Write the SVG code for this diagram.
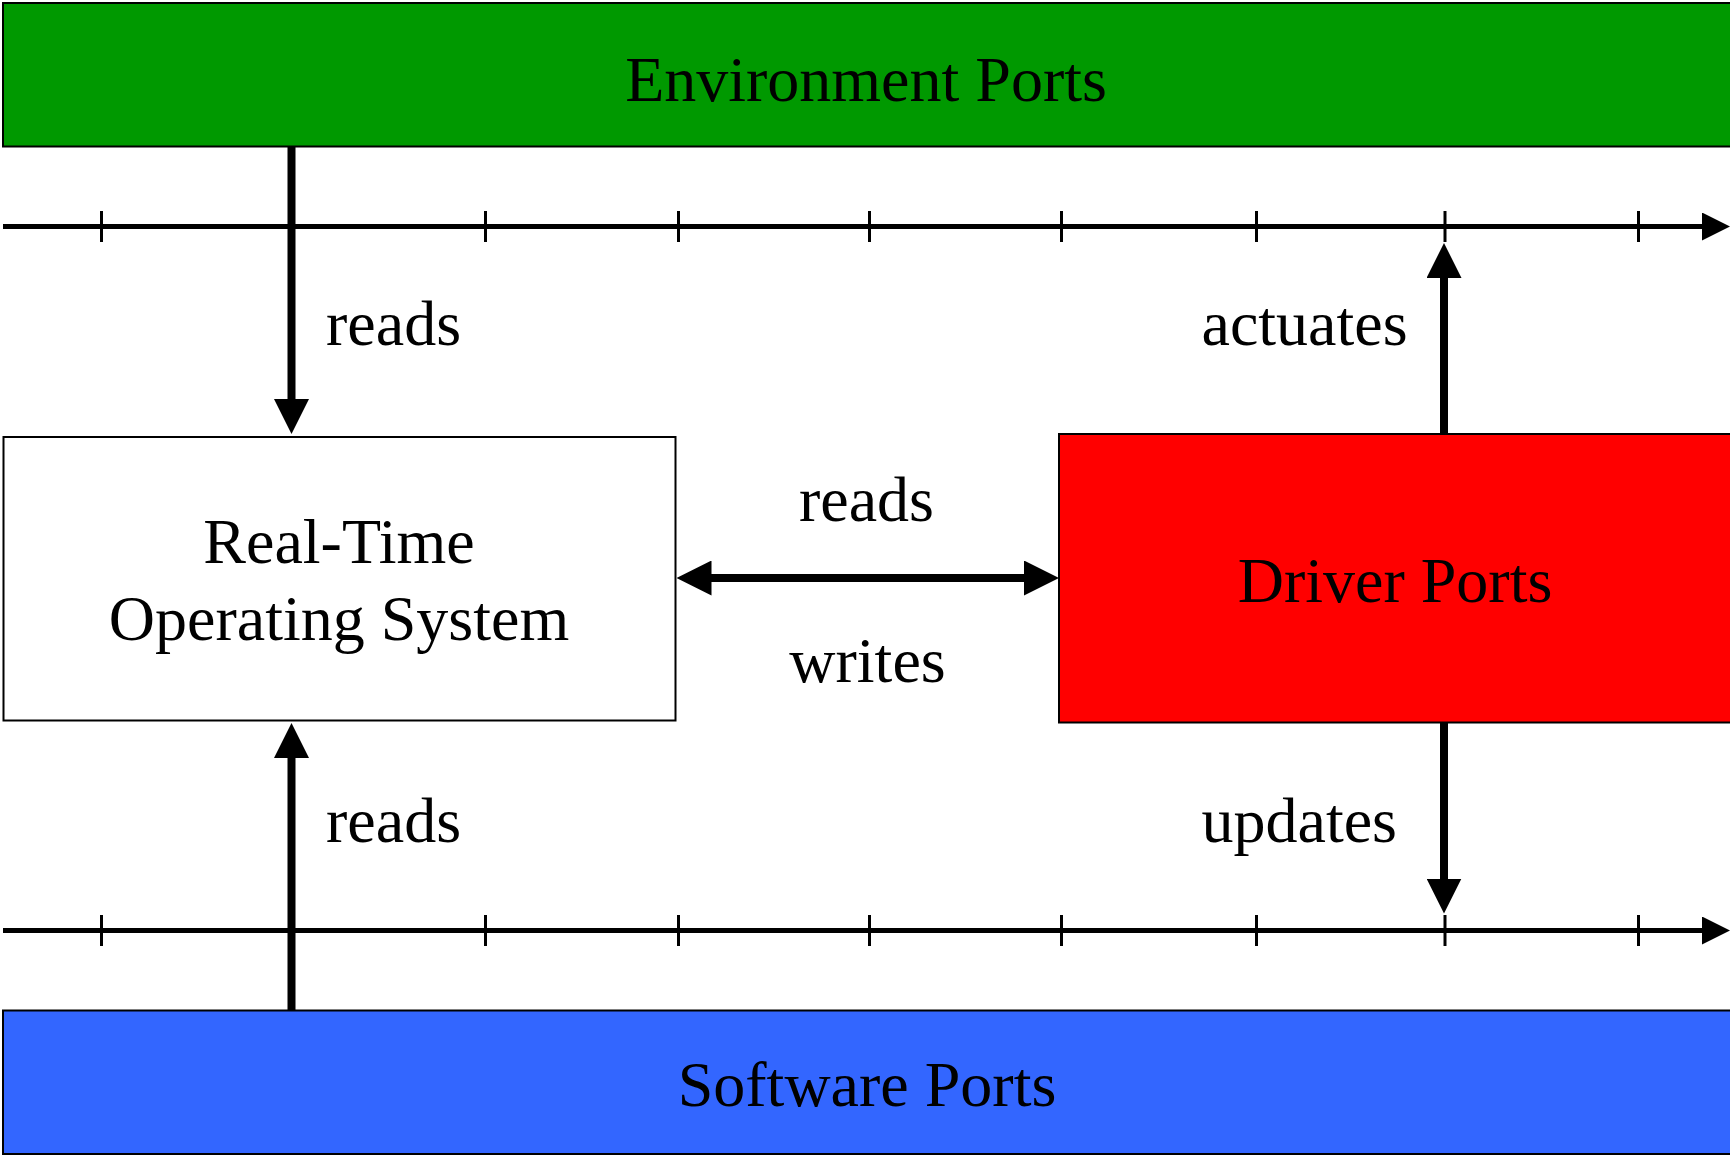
<svg xmlns="http://www.w3.org/2000/svg" width="1730" height="1155" viewBox="0 0 1730 1155">
<style>
.lbl{font-family:"Liberation Serif","Times New Roman",serif;font-size:64px;fill:#000}
.mid{text-anchor:middle}
.box{stroke:#000;stroke-width:2}
.conn{stroke:#000;stroke-width:8;fill:none}
.axis{stroke:#000;stroke-width:5;fill:none}
.tick{stroke:#000;stroke-width:3}
</style>
<defs>
<marker id="ah" viewBox="0 0 35 35" refX="5" refY="17.5" markerWidth="35" markerHeight="35" markerUnits="userSpaceOnUse" orient="auto-start-reverse">
<path d="M0,0 L35,17.5 L0,35 z" fill="#000"/>
</marker>
<marker id="axh" viewBox="0 0 28 28" refX="3" refY="14" markerWidth="28" markerHeight="28" markerUnits="userSpaceOnUse" orient="auto">
<path d="M0,0 L28,14 L0,28 z" fill="#000"/>
</marker>
</defs>
<rect width="1730" height="1155" fill="#fff"/>
<g id="env">
<rect class="box" x="3" y="3" width="1740" height="143.5" fill="#009900"/>
<text class="lbl mid" x="866" y="101">Environment Ports</text>
</g>
<g id="sw">
<rect class="box" x="3" y="1010.5" width="1740" height="143.5" fill="#3366FF"/>
<text class="lbl mid" x="867" y="1106">Software Ports</text>
</g>
<g id="rtos">
<rect class="box" x="3.5" y="437" width="672" height="283.5" fill="#fff"/>
<text class="lbl mid" x="339" y="563">Real-Time</text>
<text class="lbl mid" x="339" y="640">Operating System</text>
</g>
<g id="driver">
<rect class="box" x="1059" y="434" width="700" height="288.5" fill="#FF0000"/>
<text class="lbl mid" x="1395" y="602">Driver Ports</text>
</g>
<g id="timelines">
<line class="axis" x1="3" y1="226.5" x2="1705" y2="226.5" marker-end="url(#axh)"/>
<line class="axis" x1="3" y1="930.5" x2="1705" y2="930.5" marker-end="url(#axh)"/>
<g class="tick">
<line x1="101.5" y1="211" x2="101.5" y2="242"/>
<line x1="485.5" y1="211" x2="485.5" y2="242"/>
<line x1="678.5" y1="211" x2="678.5" y2="242"/>
<line x1="869.5" y1="211" x2="869.5" y2="242"/>
<line x1="1061.5" y1="211" x2="1061.5" y2="242"/>
<line x1="1256.5" y1="211" x2="1256.5" y2="242"/>
<line x1="1445" y1="211" x2="1445" y2="242"/>
<line x1="1638.5" y1="211" x2="1638.5" y2="242"/>
<line x1="101.5" y1="915" x2="101.5" y2="946"/>
<line x1="485.5" y1="915" x2="485.5" y2="946"/>
<line x1="678.5" y1="915" x2="678.5" y2="946"/>
<line x1="869.5" y1="915" x2="869.5" y2="946"/>
<line x1="1061.5" y1="915" x2="1061.5" y2="946"/>
<line x1="1256.5" y1="915" x2="1256.5" y2="946"/>
<line x1="1445" y1="915" x2="1445" y2="946"/>
<line x1="1638.5" y1="915" x2="1638.5" y2="946"/>
</g>
</g>
<g id="connectors">
<line class="conn" x1="291.5" y1="146" x2="291.5" y2="404" marker-end="url(#ah)"/>
<line class="conn" x1="291.5" y1="1010.5" x2="291.5" y2="753" marker-end="url(#ah)"/>
<line class="conn" x1="706.5" y1="578" x2="1029" y2="578" marker-start="url(#ah)" marker-end="url(#ah)"/>
<line class="conn" x1="1444" y1="434" x2="1444" y2="273" marker-end="url(#ah)"/>
<line class="conn" x1="1444" y1="722.5" x2="1444" y2="883.5" marker-end="url(#ah)"/>
<text class="lbl" x="326" y="345">reads</text>
<text class="lbl" x="326" y="842">reads</text>
<text class="lbl mid" x="866.5" y="521">reads</text>
<text class="lbl mid" x="867.5" y="682">writes</text>
<text class="lbl" x="1201.5" y="345">actuates</text>
<text class="lbl" x="1201.5" y="842">updates</text>
</g>
</svg>
